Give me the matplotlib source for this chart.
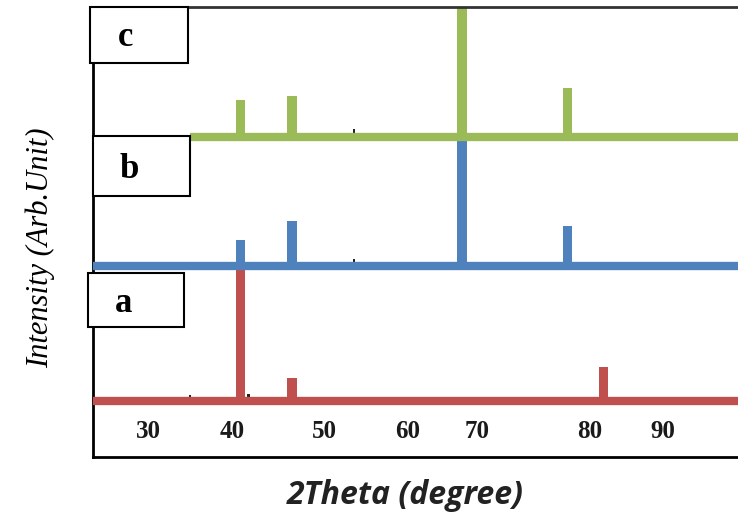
import numpy as np
import matplotlib.pyplot as plt
from matplotlib.patches import Rectangle

# main peak positions (2theta) and heights above each baseline
peaks_a = [40.8, 46.8, 83.1]
heights_a = [131, 23, 34]
peaks_b = [40.8, 46.8, 66.6, 78.9]
heights_b = [26, 45, 129, 40]
peaks_c = [40.8, 46.8, 66.6, 78.9]
heights_c = [37, 41, 150, 49]

# tiny dark residual peaks
minor_a = [34.9, 41.7]
minor_h_a = [6, 7]
minor_b = [54.0]
minor_h_b = [7]
minor_c = [54.0]
minor_h_c = [8]

offset_a, offset_b, offset_c = 56, 191, 320
start_a, start_b, start_c = 23.6, 23.6, 34.9

tick_text = ["30", "40", "50", "60", "70", "80", "90"]
tick_pos = [30, 39.8, 50.6, 60.2, 68.3, 81.5, 90]

col_a, col_b, col_c = "#C0504D", "#4F81BD", "#9BBB59"

fig = plt.figure(figsize=(7.38, 5.17), dpi=100)
W, H = 738, 517
ax = fig.add_axes([93 / W, (H - 457) / H, (760 - 93) / W, (457 - 7) / H])
ax.set_xlim(23.6, 101.3)
ax.set_ylim(0, 450)

series = [
    (peaks_a, heights_a, minor_a, minor_h_a, offset_a, start_a, col_a),
    (peaks_b, heights_b, minor_b, minor_h_b, offset_b, start_b, col_b),
    (peaks_c, heights_c, minor_c, minor_h_c, offset_c, start_c, col_c),
]
for pk, hts, mk, mh, off, st, col in series:
    ax.bar(pk, hts, width=1.1, bottom=off, color=col, zorder=2)
    ax.bar(mk, mh, width=0.3, bottom=off, color="#222222", zorder=2)
    ax.plot([st, 101.3], [off, off], color=col, lw=6, solid_capstyle="butt", zorder=3)

for t, p in zip(tick_text, tick_pos):
    ax.text(p, 26, t, ha="center", va="center", fontsize=18,
            family="Liberation Serif", fontweight="bold", color="#1a1a1a")

ax.set_xticks([])
ax.set_yticks([])
ax.spines["right"].set_visible(False)
ax.spines["left"].set_linewidth(2)
ax.spines["bottom"].set_linewidth(2)
ax.spines["top"].set_linewidth(2)
ax.spines["top"].set_color("#333333")

# label boxes
boxes = [("c", 90, 7, 188, 63), ("b", 93, 136, 190, 196), ("a", 88, 273, 184, 327)]
for lab, x0, y0, x1, y1 in boxes:
    fig.add_artist(Rectangle((x0 / W, 1 - y1 / H), (x1 - x0) / W, (y1 - y0) / H,
                             transform=fig.transFigure, facecolor="white",
                             edgecolor="black", lw=1.5, zorder=5))
    fig.text((x0 + 36) / W, 1 - ((y0 + y1) / 2 + 3) / H, lab, ha="center", va="center",
             fontsize=25, family="Liberation Serif", fontweight="bold", zorder=6)

fig.text(40 / W, 1 - 248 / H, "Intensity (Arb.Unit)", rotation=90, ha="center",
         va="center", fontsize=22, family="Liberation Serif", style="italic")
fig.text(405 / W, 1 - 495 / H, "2Theta (degree)", ha="center", va="center",
         fontsize=23, family="Open Sans", style="italic", fontweight="bold",
         color="#222222")

fig.savefig("out.png", dpi=100)
